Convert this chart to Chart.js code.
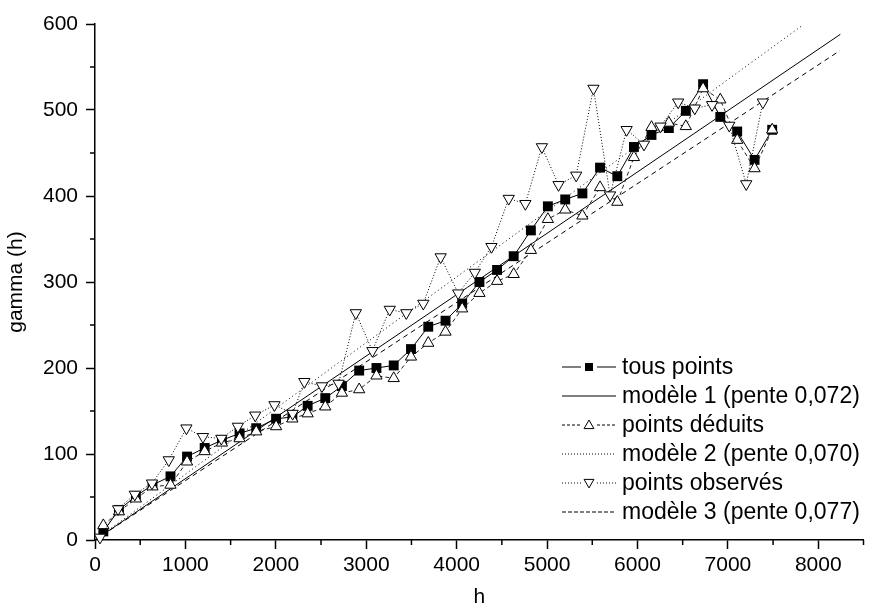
<!DOCTYPE html>
<html>
<head>
<meta charset="utf-8">
<script src="https://cdn.jsdelivr.net/npm/chart.js@4.4.1/dist/chart.umd.min.js"></script>
<style>
  html, body { margin: 0; padding: 0; background: #fff; }
  #wrap { width: 871px; height: 608px; }
</style>
</head>
<body>
<div id="wrap"><canvas id="gammaChart"></canvas></div>
<script>
// heures des mesures (tous points / points déduits)
const hours = [92, 265, 452, 636, 835, 1018, 1213, 1404, 1599, 1783, 2003, 2183, 2352, 2547, 2731, 2922, 3113, 3304, 3495, 3686,
  3877, 4061, 4252, 4447, 4631, 4821, 5009, 5201, 5391, 5586, 5777, 5961, 6155, 6347, 6535, 6726, 6916, 7103, 7295, 7490]
const tousPoints = [10, 35, 51, 64, 74, 97, 107, 116, 124, 130, 141, 143, 156, 165, 179, 197, 200, 203, 222, 248,
  255, 275, 300, 314, 330, 360, 388, 396, 403, 433, 423, 457, 471, 479, 499, 530, 492, 475, 442, 477]
const pointsDeduits = [17, 33, 48, 62, 64, 91, 103, 113, 118, 126, 132, 141, 147, 155, 171, 175, 191, 188, 213, 229,
  242, 269, 287, 301, 309, 337, 373, 384, 377, 410, 393, 445, 480, 485, 481, 525, 512, 465, 432, 477]
// heures des points observés
const hoursObs = [55, 255, 440, 630, 816, 1011, 1194, 1397, 1580, 1772, 1985, 2186, 2315, 2510, 2694, 2885, 3068, 3260, 3443, 3631,
  3823, 4017, 4201, 4385, 4576, 4760, 4943, 5127, 5322, 5513, 5697, 5880, 6072, 6255, 6450, 6634, 6825, 7015, 7203, 7387]
const pointsObserves = [3, 36, 53, 66, 93, 130, 120, 118, 132, 145, 157, 147, 184, 179, 182, 264, 220, 268, 264, 275,
  329, 287, 311, 341, 397, 391, 457, 413, 424, 525, 401, 477, 460, 481, 509, 502, 506, 482, 414, 509]

// droites des modèles (extrémités)
const modele1X = [0, 8244]
const modele1Y = [0, 588]
const modele2X = [0, 7832]
const modele2Y = [0, 599]
const modele3X = [0, 8239]
const modele3Y = [0, 569]

const legendLabels = ['tous points', 'modèle 1 (pente 0,072)', 'points déduits',
  'modèle 2 (pente 0,070)', 'points observés', 'modèle 3 (pente 0,077)']

const FONT = '"Liberation Sans", Arial, sans-serif'

function pairs(xs, ys) {
  return xs.map((x, i) => ({ x: x, y: ys[i] }))
}

// légende dessinée dans la zone du graphique
const legendItems = [
  { dash: [], marker: 'square' },
  { dash: [], marker: null },
  { dash: [3, 2], marker: 'up' },
  { dash: [1, 2], marker: null },
  { dash: [1, 2], marker: 'down' },
  { dash: [4, 2], marker: null }
]

function drawMarker(ctx, type, x, y, s) {
  ctx.save()
  ctx.setLineDash([])
  ctx.lineWidth = 1
  ctx.strokeStyle = '#000'
  ctx.beginPath()
  if (type === 'square') {
    ctx.fillStyle = '#000'
    ctx.fillRect(x - s / 2, y - s / 2, s, s)
  } else if (type === 'up') {
    ctx.moveTo(x, y - s * 0.55)
    ctx.lineTo(x + s * 0.55, y + s * 0.4)
    ctx.lineTo(x - s * 0.55, y + s * 0.4)
    ctx.closePath()
    ctx.fillStyle = '#fff'
    ctx.fill()
    ctx.stroke()
  } else if (type === 'down') {
    ctx.moveTo(x, y + s * 0.55)
    ctx.lineTo(x + s * 0.55, y - s * 0.4)
    ctx.lineTo(x - s * 0.55, y - s * 0.4)
    ctx.closePath()
    ctx.fillStyle = '#fff'
    ctx.fill()
    ctx.stroke()
  }
  ctx.restore()
}

const extrasPlugin = {
  id: 'extras',
  afterDraw(chart) {
    const ctx = chart.ctx
    const xs = chart.scales.x
    const ys = chart.scales.y
    ctx.save()
    // petites graduations
    ctx.strokeStyle = '#000'
    ctx.lineWidth = 1.5
    xs.ticks.forEach(t => {
      if (t.value % 1000 !== 0) {
        const px = xs.getPixelForValue(t.value)
        ctx.beginPath(); ctx.moveTo(px, xs.top); ctx.lineTo(px, xs.top + 5); ctx.stroke()
      }
    })
    ys.ticks.forEach(t => {
      if (t.value % 100 !== 0) {
        const py = ys.getPixelForValue(t.value)
        ctx.beginPath(); ctx.moveTo(ys.right, py); ctx.lineTo(ys.right - 5, py); ctx.stroke()
      }
    })
    // légende
    const x0 = 562, x1 = 616, textX = 622
    let y = 367
    ctx.font = '23px ' + FONT
    ctx.textBaseline = 'middle'
    ctx.fillStyle = '#000'
    legendItems.forEach((it, i) => {
      ctx.strokeStyle = '#000'
      ctx.lineWidth = 1
      ctx.setLineDash(it.dash)
      ctx.beginPath()
      if (it.marker) {
        ctx.moveTo(x0, y); ctx.lineTo(x0 + 19, y)
        ctx.moveTo(x1 - 19, y); ctx.lineTo(x1, y)
      } else {
        ctx.moveTo(x0, y); ctx.lineTo(x1, y)
      }
      ctx.stroke()
      if (it.marker) drawMarker(ctx, it.marker, (x0 + x1) / 2, y, it.marker === 'square' ? 8 : 9)
      ctx.setLineDash([])
      ctx.fillText(legendLabels[i], textX, y + 1)
      y += 29
    })
    ctx.restore()
  }
}

new Chart(document.getElementById('gammaChart'), {
  type: 'scatter',
  data: {
    datasets: [
      {
        label: legendLabels[4],
        data: pairs(hoursObs, pointsObserves),
        showLine: true,
        borderColor: '#000',
        borderWidth: 1,
        borderDash: [1, 2],
        pointStyle: 'triangle',
        rotation: 180,
        pointRadius: 6.5,
        pointBorderWidth: 1,
        pointBackgroundColor: '#fff',
        pointBorderColor: '#000',
        clip: false,
        order: 1
      },
      {
        label: legendLabels[2],
        data: pairs(hours, pointsDeduits),
        showLine: true,
        borderColor: '#222',
        borderWidth: 1,
        borderDash: [4, 3],
        pointStyle: 'triangle',
        pointRadius: 6.5,
        pointBorderWidth: 1,
        pointBackgroundColor: '#fff',
        pointBorderColor: '#000',
        clip: false,
        order: 2
      },
      {
        label: legendLabels[0],
        data: pairs(hours, tousPoints),
        showLine: true,
        borderColor: '#000',
        borderWidth: 1,
        pointStyle: 'rect',
        pointRadius: 7,
        pointBorderWidth: 0,
        pointBackgroundColor: '#000',
        pointBorderColor: '#000',
        clip: false,
        order: 3
      },
      {
        label: legendLabels[1],
        data: pairs(modele1X, modele1Y),
        showLine: true,
        borderColor: '#000',
        borderWidth: 1,
        pointRadius: 0,
        order: 4
      },
      {
        label: legendLabels[3],
        data: pairs(modele2X, modele2Y),
        showLine: true,
        borderColor: '#000',
        borderWidth: 1,
        borderDash: [1, 3],
        pointRadius: 0,
        order: 5
      },
      {
        label: legendLabels[5],
        data: pairs(modele3X, modele3Y),
        showLine: true,
        borderColor: '#000',
        borderWidth: 1,
        borderDash: [5, 4],
        pointRadius: 0,
        order: 6
      }
    ]
  },
  options: {
    responsive: true,
    maintainAspectRatio: false,
    animation: false,
    layout: { padding: { top: 24, right: 5, left: 0, bottom: 0 } },
    plugins: { legend: { display: false }, tooltip: { enabled: false } },
    scales: {
      x: {
        type: 'linear',
        min: 0,
        max: 8500,
        afterFit: s => { s.height = 68 },
        ticks: {
          stepSize: 500,
          autoSkip: false,
          maxRotation: 0,
          padding: 4,
          color: '#000',
          font: { family: FONT, size: 21 },
          callback: v => (v % 1000 === 0 ? String(v) : '')
        },
        grid: {
          drawOnChartArea: false,
          tickLength: 9,
          tickWidth: 1.5,
          tickColor: c => (c.tick && c.tick.value % 1000 === 0 ? '#000' : 'rgba(0,0,0,0)')
        },
        border: { color: '#000', width: 1.5 },
        title: { display: true, text: 'h', color: '#000', font: { family: FONT, size: 21 }, padding: { top: 0, bottom: -2 } }
      },
      y: {
        type: 'linear',
        min: 0,
        max: 600,
        afterFit: s => { s.width = 95 },
        ticks: {
          stepSize: 50,
          autoSkip: false,
          padding: 8,
          color: '#000',
          font: { family: FONT, size: 21 },
          callback: v => (v % 100 === 0 ? String(v) : '')
        },
        grid: {
          drawOnChartArea: false,
          tickLength: 9,
          tickWidth: 1.5,
          tickColor: c => (c.tick && c.tick.value % 100 === 0 ? '#000' : 'rgba(0,0,0,0)')
        },
        border: { color: '#000', width: 1.5 },
        title: { display: true, text: 'gamma (h)', color: '#000', font: { family: FONT, size: 21 }, padding: { top: 4, bottom: 0 } }
      }
    }
  },
  plugins: [extrasPlugin]
})
</script>
</body>
</html>
